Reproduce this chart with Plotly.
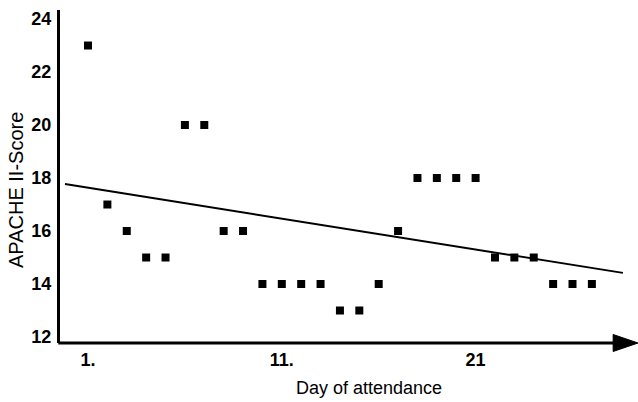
import plotly.graph_objects as go

# Data
days = list(range(1, 28))
apache_scores = [23, 17, 16, 15, 15, 20, 20, 16, 16, 14, 14, 14, 14, 13, 13,
                 14, 16, 18, 18, 18, 18, 15, 15, 15, 14, 14, 14]
trend_x = [-0.19, 28.6]
trend_y = [17.77, 14.42]

x_tick_vals = [1, 11, 21]
x_tick_text = ["1.", "11.", "21"]
y_tick_vals = [12, 14, 16, 18, 20, 22, 24]
y_tick_text = ["12", "14", "16", "18", "20", "22", "24"]

FONT = "Liberation Sans, Arial, sans-serif"

fig = go.Figure()
fig.add_trace(go.Scatter(
    x=trend_x, y=trend_y, mode="lines",
    line=dict(color="black", width=2), showlegend=False, hoverinfo="skip",
))
fig.add_trace(go.Scatter(
    x=days, y=apache_scores, mode="markers",
    marker=dict(symbol="square", size=8, color="black", line=dict(width=0)),
    showlegend=False,
))

fig.update_layout(
    width=638, height=402,
    margin=dict(l=60, r=0, t=10, b=59),
    paper_bgcolor="white", plot_bgcolor="white",
    font=dict(family=FONT, color="black"),
    xaxis=dict(
        range=[-0.445, 29.38], showgrid=False, zeroline=False, showline=False,
        tickmode="array", tickvals=x_tick_vals, ticktext=x_tick_text,
        ticks="", tickfont=dict(family=FONT, size=18, color="black", weight="bold"),
        ticklabelstandoff=4,
    ),
    yaxis=dict(
        range=[11.774, 24.34], showgrid=False, zeroline=False,
        showline=True, linecolor="black", linewidth=3,
        tickmode="array", tickvals=y_tick_vals, ticktext=y_tick_text,
        ticks="", tickfont=dict(family=FONT, size=18, color="black", weight="bold"),
        ticklabelstandoff=2,
    ),
    shapes=[
        dict(type="line", xref="paper", yref="paper", x0=-0.003, x1=0.96, y0=0, y1=0,
             line=dict(color="black", width=3)),
        dict(type="path", xref="paper", yref="paper",
             path="M 0.957,0.0255 L 1.0,0 L 0.957,-0.0255 Z",
             fillcolor="black", line=dict(color="black", width=1)),
    ],
    annotations=[
        dict(text="Day of attendance", xref="paper", yref="paper",
             x=0.5346, y=-0.135, xanchor="center", yanchor="middle",
             showarrow=False, font=dict(family=FONT, size=18, color="black")),
        dict(text="APACHE II-Score", xref="paper", yref="paper",
             x=-0.0761, y=0.4595, xanchor="center", yanchor="middle",
             textangle=-90, showarrow=False,
             font=dict(family=FONT, size=20, color="black")),
    ],
)

fig.write_html(
    "out.html",
    config={"displayModeBar": False},
    post_script="document.body.style.margin='0';document.body.style.padding='0';document.body.style.overflow='hidden';",
)
